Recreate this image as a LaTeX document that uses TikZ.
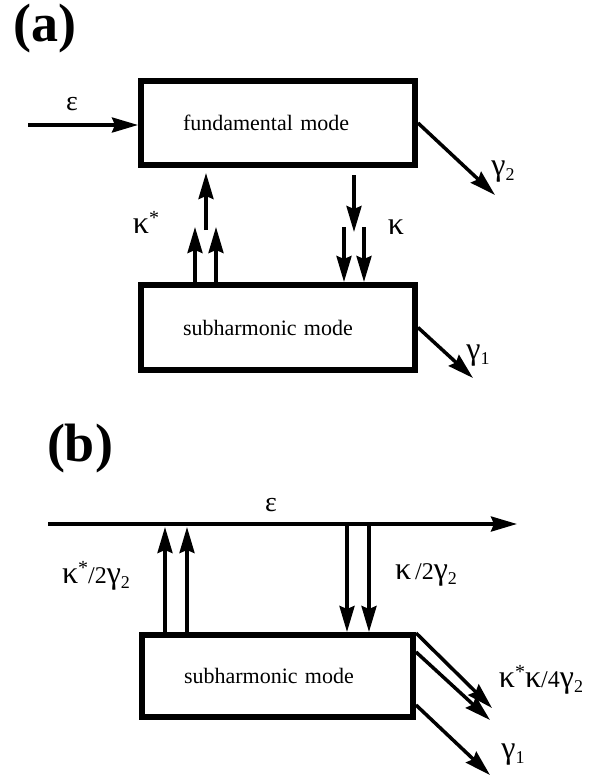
\documentclass[tikz,border=0pt]{standalone}
\usepackage{fontspec}
\setmainfont{Liberation Serif}
\usetikzlibrary{arrows.meta}

% Greek symbols as in the figure (upright, large)
\newcommand{\kap}{{\fontsize{32}{32}\selectfont κ}}
\newcommand{\gam}{{\fontsize{32}{32}\selectfont γ}}
\newcommand{\epsi}{{\fontsize{28}{28}\selectfont ε}}
\newcommand{\cstar}{\raisebox{9pt}{\fontsize{20}{20}\selectfont *}}
\newcommand{\lowsub}[1]{\raisebox{-5pt}{\fontsize{18}{18}\selectfont #1}}

\begin{document}
\begin{tikzpicture}[x=1pt, y=-1pt,
        >={Stealth[length=26pt, width=15pt, inset=3pt]},
        modebox/.style={draw, line width=6pt, inner xsep=42pt, text width=190pt,
            align=left, font=\fontsize{22}{26}\selectfont},
        flow/.style={->, line width=3.5pt},
        greek/.style={font=\fontsize{24}{28}\selectfont},
        panel/.style={font=\fontsize{54}{60}\selectfont\bfseries}]
    \useasboundingbox (0,0) rectangle (603,777);

    % Panel (a): two coupled modes
    \begin{scope}
        \node[panel] (labA) at (45,29) {(a)};
        \node[modebox, minimum height=84pt] (fund) at (278,123) {fundamental mode};
        \node[modebox, minimum height=85pt] (subA) at (278,327.5) {subharmonic mode};

        % Pump
        \coordinate (epsin) at (28,125);
        \draw[flow] (epsin) -- (fund.west |- epsin);
        \node[greek] (epsA) at (72,104) {\epsi};

        % Up-conversion
        \coordinate (ks0) at (206,230);
        \coordinate (ks1) at (195,227);
        \coordinate (ks2) at (216,227);
        \draw[flow, shorten >=5pt] (ks0) -- (fund.south -| ks0);
        \foreach \q in {ks1,ks2} {
            \draw[flow] (subA.north -| \q) -- (\q);
        }
        \node[greek] (kapS) at (146,222) {\kap\cstar};

        % Down-conversion
        \coordinate (kd0) at (354,232);
        \coordinate (kd1) at (344,227);
        \coordinate (kd2) at (364,227);
        \draw[flow, shorten <=7pt] (fund.south -| kd0) -- (kd0);
        \foreach \q in {kd1,kd2} {
            \draw[flow] (\q) -- (subA.north -| \q);
        }
        \node[greek] (kap) at (396,227) {\kap};

        % Losses
        \coordinate (g2end) at (495,195);
        \draw[flow] (fund.east) -- (g2end);
        \node[greek] (gam2) at (503,172) {\gam\lowsub{2}};
        \coordinate (g1end) at (473,378);
        \draw[flow] (subA.east) -- (g1end);
        \node[greek] (gam1) at (478,356) {\gam\lowsub{1}};
    \end{scope}

    % Panel (b): fundamental eliminated
    \begin{scope}
        \node[panel] (labB) at (80,449) {(b)};
        \node[modebox, text width=187pt, minimum height=82pt] (subB) at (277.5,676) {subharmonic mode};

        % Pump line
        \coordinate (epsl) at (48,524);
        \coordinate (epsr) at (517,524);
        \draw[flow] (epsl) -- (epsr);
        \node[greek] (epsB) at (271,505) {\epsi};

        % Effective couplings
        \coordinate (u1) at (165,527);
        \coordinate (u2) at (187,527);
        \foreach \q in {u1,u2} {
            \draw[flow] (subB.north -| \q) -- (\q);
        }
        \node[greek] (kapSb) at (96,576) {\kap\cstar/2\gam\lowsub{2}};
        \coordinate (d1) at (347,524);
        \coordinate (d2) at (369,524);
        \foreach \q in {d1,d2} {
            \draw[flow] (\q) -- (subB.north -| \q);
        }
        \node[greek] (kapb) at (426,575) {\kap\,/2\gam\lowsub{2}};

        % Losses
        \coordinate (l1) at (492,708);
        \coordinate (l2) at (490,720);
        \coordinate (g1b) at (490,775);
        \draw[flow] ([yshift=-1pt]subB.north east) -- (l1);
        \draw[flow] ([yshift=-20pt]subB.north east) -- (l2);
        \draw[flow] ([yshift=-73pt]subB.north east) -- (g1b);
        \node[greek] (loss) at (541,680) {\kap\cstar\kap/4\gam\lowsub{2}};
        \node[greek] (gam1b) at (513,755) {\gam\lowsub{1}};
    \end{scope}
\end{tikzpicture}
\end{document}
